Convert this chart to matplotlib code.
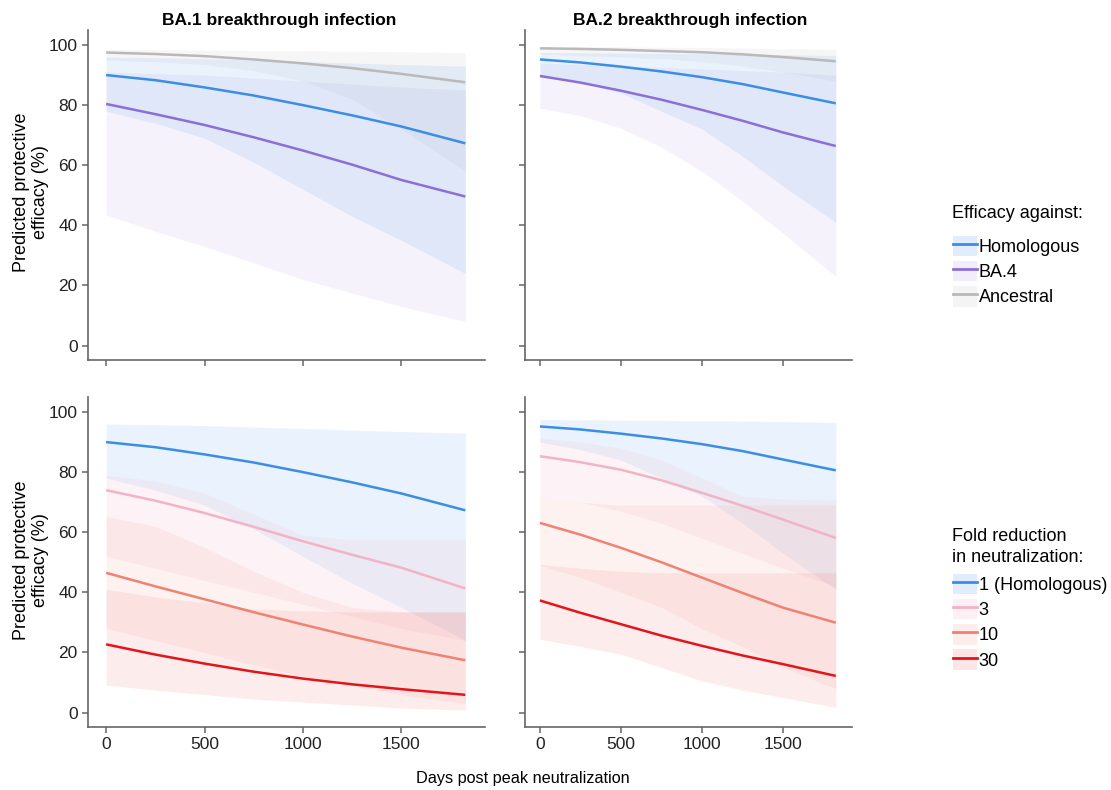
import matplotlib
matplotlib.use("Agg")
import matplotlib.pyplot as plt
from matplotlib.lines import Line2D
from matplotlib.patches import Patch
from matplotlib.legend_handler import HandlerTuple

plt.rcParams["font.family"] = ["Liberation Sans", "DejaVu Sans"]

days = [0, 250, 500, 750, 1000, 1250, 1500, 1825]

# top row: efficacy against variants (line, lower, upper)
ba1_homologous = [90.0, 88.3, 85.9, 83.2, 80.0, 76.6, 72.9, 67.3]
ba1_homologous_lo = [78, 74, 69, 61, 52, 43, 35, 24]
ba1_homologous_hi = [96, 95.8, 95.5, 95, 94.5, 94, 93.5, 93]
ba1_ba4 = [80.4, 77.0, 73.4, 69.3, 64.9, 60.2, 55.1, 49.6]
ba1_ba4_lo = [43.5, 38, 33, 27.5, 22, 17.5, 13, 8]
ba1_ba4_hi = [91, 90.5, 90, 89, 88, 87, 86, 85]
ba1_ancestral = [97.5, 97.0, 96.3, 95.2, 93.9, 92.3, 90.4, 87.6]
ba1_ancestral_lo = [95, 94.5, 93.5, 91.5, 88, 82, 72, 58]
ba1_ancestral_hi = [98.5, 98.4, 98.3, 98.2, 98.1, 98, 97.8, 97.5]

ba2_homologous = [95.2, 94.2, 92.8, 91.2, 89.3, 87.0, 84.2, 80.6]
ba2_homologous_lo = [90, 87.5, 84, 78, 72, 63, 53, 41]
ba2_homologous_hi = [97.5, 97.4, 97.3, 97.2, 97.1, 97, 96.8, 96.5]
ba2_ba4 = [89.7, 87.5, 84.8, 81.8, 78.4, 74.8, 70.9, 66.4]
ba2_ba4_lo = [79, 76.5, 72.3, 66, 58, 48, 37.4, 23]
ba2_ba4_hi = [94, 93.5, 93, 92.5, 92, 91.5, 91, 90]
ba2_ancestral = [98.9, 98.7, 98.4, 98.0, 97.6, 96.9, 96.0, 94.6]
ba2_ancestral_lo = [97, 96.5, 96, 95.5, 94.5, 93, 91, 88]
ba2_ancestral_hi = [99.5, 99.5, 99.4, 99.3, 99.2, 99, 98.8, 98.5]

# bottom row: fold reduction in neutralization
ba1_fold3 = [74.0, 70.5, 66.4, 61.8, 57.0, 52.5, 48.2, 41.3]
ba1_fold3_lo = [52, 48, 44, 40, 36, 32, 28, 24]
ba1_fold3_hi = [79, 77, 73, 66, 59, 57.5, 57.5, 57.5]
ba1_fold10 = [46.5, 42.0, 37.7, 33.4, 29.3, 25.3, 21.6, 17.4]
ba1_fold10_lo = [28, 24, 20, 16, 12, 9, 6, 3]
ba1_fold10_hi = [65.3, 62, 55, 47, 40, 35, 33.5, 33.5]
ba1_fold30 = [22.7, 19.3, 16.3, 13.6, 11.3, 9.4, 7.8, 5.9]
ba1_fold30_lo = [9.2, 7.5, 6, 4.5, 3.5, 2.5, 1.5, 0.8]
ba1_fold30_hi = [41, 38.5, 36.5, 34.5, 33.8, 33.5, 33.5, 33.5]

ba2_fold3 = [85.3, 83.3, 80.8, 77.3, 73.1, 68.8, 64.2, 58.1]
ba2_fold3_lo = [72, 70, 67, 63, 58, 53, 48, 42]
ba2_fold3_hi = [91.4, 90, 88, 84, 78, 72, 71, 70.7]
ba2_fold10 = [63.1, 59.2, 54.8, 50.0, 44.9, 39.8, 34.9, 29.9]
ba2_fold10_lo = [49, 45, 40, 35, 28, 22, 15, 8]
ba2_fold10_hi = [72, 70, 69, 69, 69, 69, 69, 69]
ba2_fold30 = [37.3, 33.2, 29.4, 25.6, 22.2, 19.0, 16.1, 12.2]
ba2_fold30_lo = [24.4, 22, 19.4, 15, 10.5, 7.5, 5, 1.7]
ba2_fold30_hi = [49.3, 48, 47, 46.5, 46.5, 46.5, 46.5, 46.5]

variant_labels = ["Homologous", "BA.4", "Ancestral"]
fold_labels = ["1 (Homologous)", "3", "10", "30"]

c_blue, c_purple, c_gray = "#3b8ee3", "#8b6fd6", "#b9b9b9"
c_pink, c_salmon, c_red = "#f2b3c6", "#ef8272", "#e3151b"
fill_blue, fill_purple, fill_gray = "#5aa0f0", "#b49ce6", "#c8c8c8"
fill_pink, fill_salmon, fill_red = "#f7c6d4", "#f7a89c", "#f26f6f"

fig = plt.figure(figsize=(11.11, 7.90), dpi=100)
W, H = 1111, 790


def make_ax(x0, x1, ytop, ybot):
    return fig.add_axes([x0 / W, 1 - ybot / H, (x1 - x0) / W, (ybot - ytop) / H])


ax_tl = make_ax(88, 485, 30, 360)
ax_tr = make_ax(525, 852, 30, 360)
ax_bl = make_ax(88, 485, 397, 727)
ax_br = make_ax(525, 852, 397, 727)


def band(ax, lo, hi, line, fc, fa, lc, lw=1.8):
    ax.fill_between(days, lo, hi, color=fc, alpha=fa, lw=0)
    ax.plot(days, line, color=lc, lw=lw, solid_capstyle="butt")


band(ax_tl, ba1_ancestral_lo, ba1_ancestral_hi, ba1_ancestral, fill_gray, 0.15, c_gray)
band(ax_tl, ba1_ba4_lo, ba1_ba4_hi, ba1_ba4, fill_purple, 0.13, c_purple)
band(ax_tl, ba1_homologous_lo, ba1_homologous_hi, ba1_homologous, fill_blue, 0.13, c_blue)

band(ax_tr, ba2_ancestral_lo, ba2_ancestral_hi, ba2_ancestral, fill_gray, 0.15, c_gray)
band(ax_tr, ba2_ba4_lo, ba2_ba4_hi, ba2_ba4, fill_purple, 0.13, c_purple)
band(ax_tr, ba2_homologous_lo, ba2_homologous_hi, ba2_homologous, fill_blue, 0.13, c_blue)

band(ax_bl, ba1_homologous_lo, ba1_homologous_hi, ba1_homologous, fill_blue, 0.13, c_blue)
band(ax_bl, ba1_fold3_lo, ba1_fold3_hi, ba1_fold3, fill_pink, 0.2, c_pink)
band(ax_bl, ba1_fold10_lo, ba1_fold10_hi, ba1_fold10, fill_salmon, 0.15, c_salmon)
band(ax_bl, ba1_fold30_lo, ba1_fold30_hi, ba1_fold30, fill_red, 0.13, c_red)

band(ax_br, ba2_homologous_lo, ba2_homologous_hi, ba2_homologous, fill_blue, 0.13, c_blue)
band(ax_br, ba2_fold3_lo, ba2_fold3_hi, ba2_fold3, fill_pink, 0.2, c_pink)
band(ax_br, ba2_fold10_lo, ba2_fold10_hi, ba2_fold10, fill_salmon, 0.15, c_salmon)
band(ax_br, ba2_fold30_lo, ba2_fold30_hi, ba2_fold30, fill_red, 0.13, c_red)

for ax in [ax_tl, ax_tr, ax_bl, ax_br]:
    ax.set_xlim(-92, 1925)
    ax.set_ylim(-4.8, 105)
    ax.set_xticks([0, 500, 1000, 1500])
    ax.set_yticks([0, 20, 40, 60, 80, 100])
    for s in ["top", "right"]:
        ax.spines[s].set_visible(False)
    for s in ["left", "bottom"]:
        ax.spines[s].set_color("#666666")
        ax.spines[s].set_linewidth(1.2)
    ax.tick_params(colors="#666666", labelcolor="#222222", labelsize=12.5,
                   length=4, width=1.1, direction="out")

for ax in [ax_tl, ax_tr]:
    ax.set_xticklabels([])
for ax in [ax_tr, ax_br]:
    ax.set_yticklabels([])

fig.text(279 / W, 1 - 21 / H, "BA.1 breakthrough infection", ha="center", va="center",
         fontsize=12.5, fontweight="bold")
fig.text(690 / W, 1 - 21 / H, "BA.2 breakthrough infection", ha="center", va="center",
         fontsize=12.5, fontweight="bold")

for yc in [192, 560]:
    fig.text(31 / W, 1 - yc / H, "Predicted protective\nefficacy (%)", rotation=90,
             ha="center", va="center", fontsize=13, multialignment="center")

fig.text(523 / W, 1 - 779 / H, "Days post peak neutralization", ha="center", va="center",
         fontsize=11.7)


def key(fc, fa, lc):
    return (Patch(facecolor=fc, alpha=fa + 0.05, lw=0), Line2D([], [], color=lc, lw=2))


hmap = {tuple: HandlerTuple(ndivide=1, pad=0)}
leg_kw = dict(loc="upper left", frameon=False, fontsize=13, handlelength=1.33,
              handleheight=1.35, handletextpad=0.1, labelspacing=0.27,
              borderpad=0, borderaxespad=0, handler_map=hmap)

fig.text(952 / W, 1 - 213 / H, "Efficacy against:", ha="left", va="center", fontsize=13)
fig.legend([key(fill_blue, 0.13, c_blue), key(fill_purple, 0.13, c_purple),
            key(fill_gray, 0.15, c_gray)], variant_labels,
           bbox_to_anchor=(953 / W, 1 - 236 / H), **leg_kw)

fig.text(952 / W, 1 - 547 / H, "Fold reduction\nin neutralization:", ha="left", va="center",
         fontsize=13, linespacing=1.3)
fig.legend([key(fill_blue, 0.13, c_blue), key(fill_pink, 0.2, c_pink),
            key(fill_salmon, 0.15, c_salmon), key(fill_red, 0.13, c_red)], fold_labels,
           bbox_to_anchor=(953 / W, 1 - 574 / H), **leg_kw)

fig.savefig("out.png", dpi=100)
